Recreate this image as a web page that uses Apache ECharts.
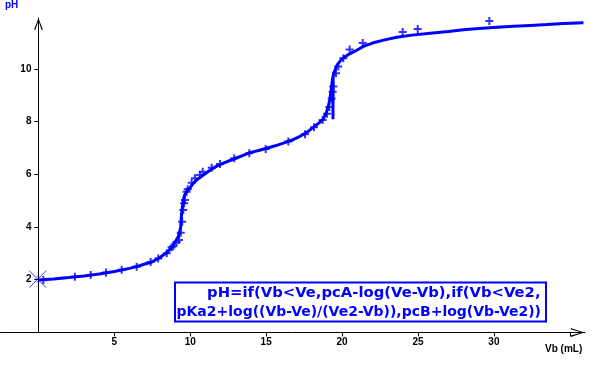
<!DOCTYPE html>
<html>
<head>
<meta charset="utf-8">
<script src="https://cdn.jsdelivr.net/npm/echarts@6/dist/echarts.min.js"></script>
<style>
html,body{margin:0;padding:0;background:#fff;}
#chart{width:604px;height:367px;}
</style>
</head>
<body>
<div id="chart"></div>
<script>
// Measured titration points [Vb (mL), pH]
const measuredPoints = [
  [0.32, 1.99], [2.40, 2.11], [3.44, 2.18], [4.45, 2.27], [5.48, 2.38],
  [6.47, 2.49], [7.39, 2.67], [7.89, 2.80], [8.45, 3.00], [8.77, 3.23],
  [8.88, 3.27], [9.10, 3.44], [9.26, 3.51], [9.37, 3.78], [9.47, 4.20],
  [9.54, 4.64], [9.60, 4.90], [9.65, 5.02], [9.76, 5.34], [9.83, 5.43],
  [10.09, 5.68], [10.31, 5.85], [10.64, 5.97], [10.82, 6.10], [11.41, 6.25],
  [11.96, 6.39], [12.90, 6.61], [13.89, 6.80], [14.97, 6.96], [16.46, 7.24],
  [17.56, 7.52], [18.15, 7.78], [18.72, 8.06], [19.01, 8.30], [19.16, 8.55],
  [19.31, 8.88], [19.38, 9.13], [19.42, 9.33], [19.60, 9.83], [19.75, 10.09],
  [20.08, 10.40], [20.50, 10.73], [21.36, 10.98], [23.99, 11.40], [24.98, 11.51],
  [29.70, 11.82]
];

// Fitted model curve [Vb (mL), pH]
const curvePoints = [
  [0, 1.99], [1, 2.03], [2, 2.08], [3, 2.14], [4, 2.22], [5, 2.31], [6, 2.43],
  [6.7, 2.54], [7.5, 2.68], [8, 2.84], [8.5, 3.05], [8.9, 3.32], [9.2, 3.62],
  [9.3, 3.80], [9.37, 4.01], [9.43, 4.52], [9.49, 4.80], [9.54, 5.02], [9.62, 5.20],
  [9.76, 5.34], [10.0, 5.50], [10.2, 5.66], [10.5, 5.82], [10.86, 5.97], [11.3, 6.15],
  [11.74, 6.31], [12.3, 6.45], [12.83, 6.57], [13.4, 6.70], [13.93, 6.82], [14.5, 6.90],
  [15.03, 6.99], [15.6, 7.08], [16.13, 7.18], [16.7, 7.30], [17.23, 7.44], [17.7, 7.60],
  [18.1, 7.78], [18.5, 7.96], [18.76, 8.10], [18.95, 8.32], [19.09, 8.57], [19.18, 8.82],
  [19.25, 9.07], [19.31, 9.33], [19.36, 9.58], [19.40, 9.70], [19.40, 8.09], [19.41, 9.72],
  [19.49, 9.89], [19.6, 10.05], [19.75, 10.21], [19.95, 10.35], [20.19, 10.46], [20.5, 10.57],
  [20.85, 10.67], [21.4, 10.85], [22.0, 10.98], [22.8, 11.10], [23.6, 11.20], [24.6, 11.28],
  [25.8, 11.35], [27.0, 11.42], [28.0, 11.48], [29.0, 11.53], [30.2, 11.58], [31.3, 11.62],
  [32.4, 11.65], [33.5, 11.68], [34.6, 11.72], [35.9, 11.75]
];

// Cursor crosshairs at both ends
const cursorPoints = [[-0.05, 2.02], [35.9, 11.98]];

const xTicks = [5, 10, 15, 20, 25, 30, 35];
const xTickLabels = [5, 10, 15, 20, 25, 30];
const yTicks = [2, 4, 6, 8, 10];
const yTickLabels = [2, 4, 6, 8, 10];

const yTitle = 'pH';
const xTitle = 'Vb (mL)';
const formulaLines = [
  'pH=if(Vb<Ve,pcA-log(Ve-Vb),if(Vb<Ve2,',
  'pKa2+log((Vb-Ve)/(Ve2-Vb)),pcB+log(Vb-Ve2))'
];

const BLUE = '#0000ff';
const FONT = 'Liberation Sans, Arial, sans-serif';
const plusSymbol = 'path://M3,0 H5 V3 H8 V5 H5 V8 H3 V5 H0 V3 H3 Z';
const chevronX = 'path://M50,0 L100,150 L84,150 L50,28 L16,150 L0,150 Z';
const chevronY = 'path://M50,0 L100,130 L84,130 L50,26 L16,130 L0,130 Z';
const cursorEnd = 'path://M0,8 L16,8 M8,0 L8,16 M5,5 L6,6 M11,5 L10,6 M5,11 L6,10 M11,11 L10,10';
const cursorStart = 'path://M0,0 L16,16 M16,0 L0,16 M8,5 L8,6 M8,11 L8,10 M5,8 L6,8 M11,8 L10,8';

const X_MIN = -2.5, X_MAX = 36;
const GRID_LEFT = 0.5, GRID_WIDTH = 584.5;
// pixel distance from grid left edge to x = 0 (where the y axis sits)
const yAxisShift = GRID_WIDTH * (0 - X_MIN) / (X_MAX - X_MIN);

const chart = echarts.init(document.getElementById('chart'), null, {renderer: 'canvas'});
chart.setOption({
  animation: false,
  backgroundColor: '#fff',
  title: [
    {text: yTitle, left: 5, top: 0, padding: 0,
     textStyle: {color: BLUE, fontSize: 10, fontWeight: 'bold', fontFamily: FONT}},
    {text: xTitle, left: 545, top: 344, padding: 0,
     textStyle: {color: '#000', fontSize: 10, fontWeight: 'bold', fontFamily: FONT}}
  ],
  grid: {left: GRID_LEFT, top: 18, width: GRID_WIDTH, height: 314.4, containLabel: false, outerBoundsMode: 'none'},
  xAxis: {
    type: 'value', min: X_MIN, max: X_MAX,
    splitLine: {show: false},
    axisLine: {show: true, onZero: false, symbol: ['none', chevronX], symbolSize: [9, 15], symbolOffset: [0, -7.5],
      lineStyle: {color: '#000', width: 1}},
    axisTick: {show: true, customValues: xTicks, length: 4, inside: false, lineStyle: {color: '#000'}},
    axisLabel: {show: true, customValues: xTickLabels, margin: 5, color: '#000', fontSize: 10, fontWeight: 'bold', fontFamily: FONT}
  },
  yAxis: {
    type: 'value', min: 0, max: 11.93, position: 'left', offset: -yAxisShift,
    splitLine: {show: false},
    axisLine: {show: true, onZero: false, symbol: ['none', chevronY], symbolSize: [9, 12], symbolOffset: [0, -6],
      lineStyle: {color: '#000', width: 1}},
    axisTick: {show: true, customValues: yTicks, length: 4, inside: false, lineStyle: {color: '#000'}},
    axisLabel: {show: true, customValues: yTickLabels, margin: 7, color: '#000', fontSize: 10, fontWeight: 'bold', fontFamily: FONT}
  },
  series: [
    {
      name: 'model', type: 'line', data: curvePoints, showSymbol: false, symbol: 'none',
      lineStyle: {color: BLUE, width: 3}, z: 3
    },
    {
      name: 'measured', type: 'scatter', data: measuredPoints, symbol: plusSymbol, symbolSize: 8,
      itemStyle: {color: BLUE}, z: 4
    },
    {
      name: 'cursors', type: 'scatter',
      data: cursorPoints.map((p, i) => ({value: p, symbol: i === 0 ? cursorStart : cursorEnd})),
      symbolSize: 17,
      itemStyle: {color: 'rgba(0,0,0,0)', borderColor: BLUE, borderWidth: 1}, z: 5
    }
  ],
  graphic: [
    {type: 'rect', shape: {x: 175, y: 282.5, width: 371, height: 39},
     style: {fill: '#fff', stroke: BLUE, lineWidth: 2}, z: 10},
    {type: 'text', x: 540.5, y: 293.5,
     style: {text: formulaLines[0], font: 'bold 14.8px "DejaVu Sans"', fill: BLUE,
       align: 'right', verticalAlign: 'middle', textAlign: 'right', textVerticalAlign: 'middle'}, z: 11},
    {type: 'text', x: 541, y: 312.5,
     style: {text: formulaLines[1], font: 'bold 14px "DejaVu Sans"', fill: BLUE,
       align: 'right', verticalAlign: 'middle', textAlign: 'right', textVerticalAlign: 'middle'}, z: 11}
  ]
});
</script>
</body>
</html>
